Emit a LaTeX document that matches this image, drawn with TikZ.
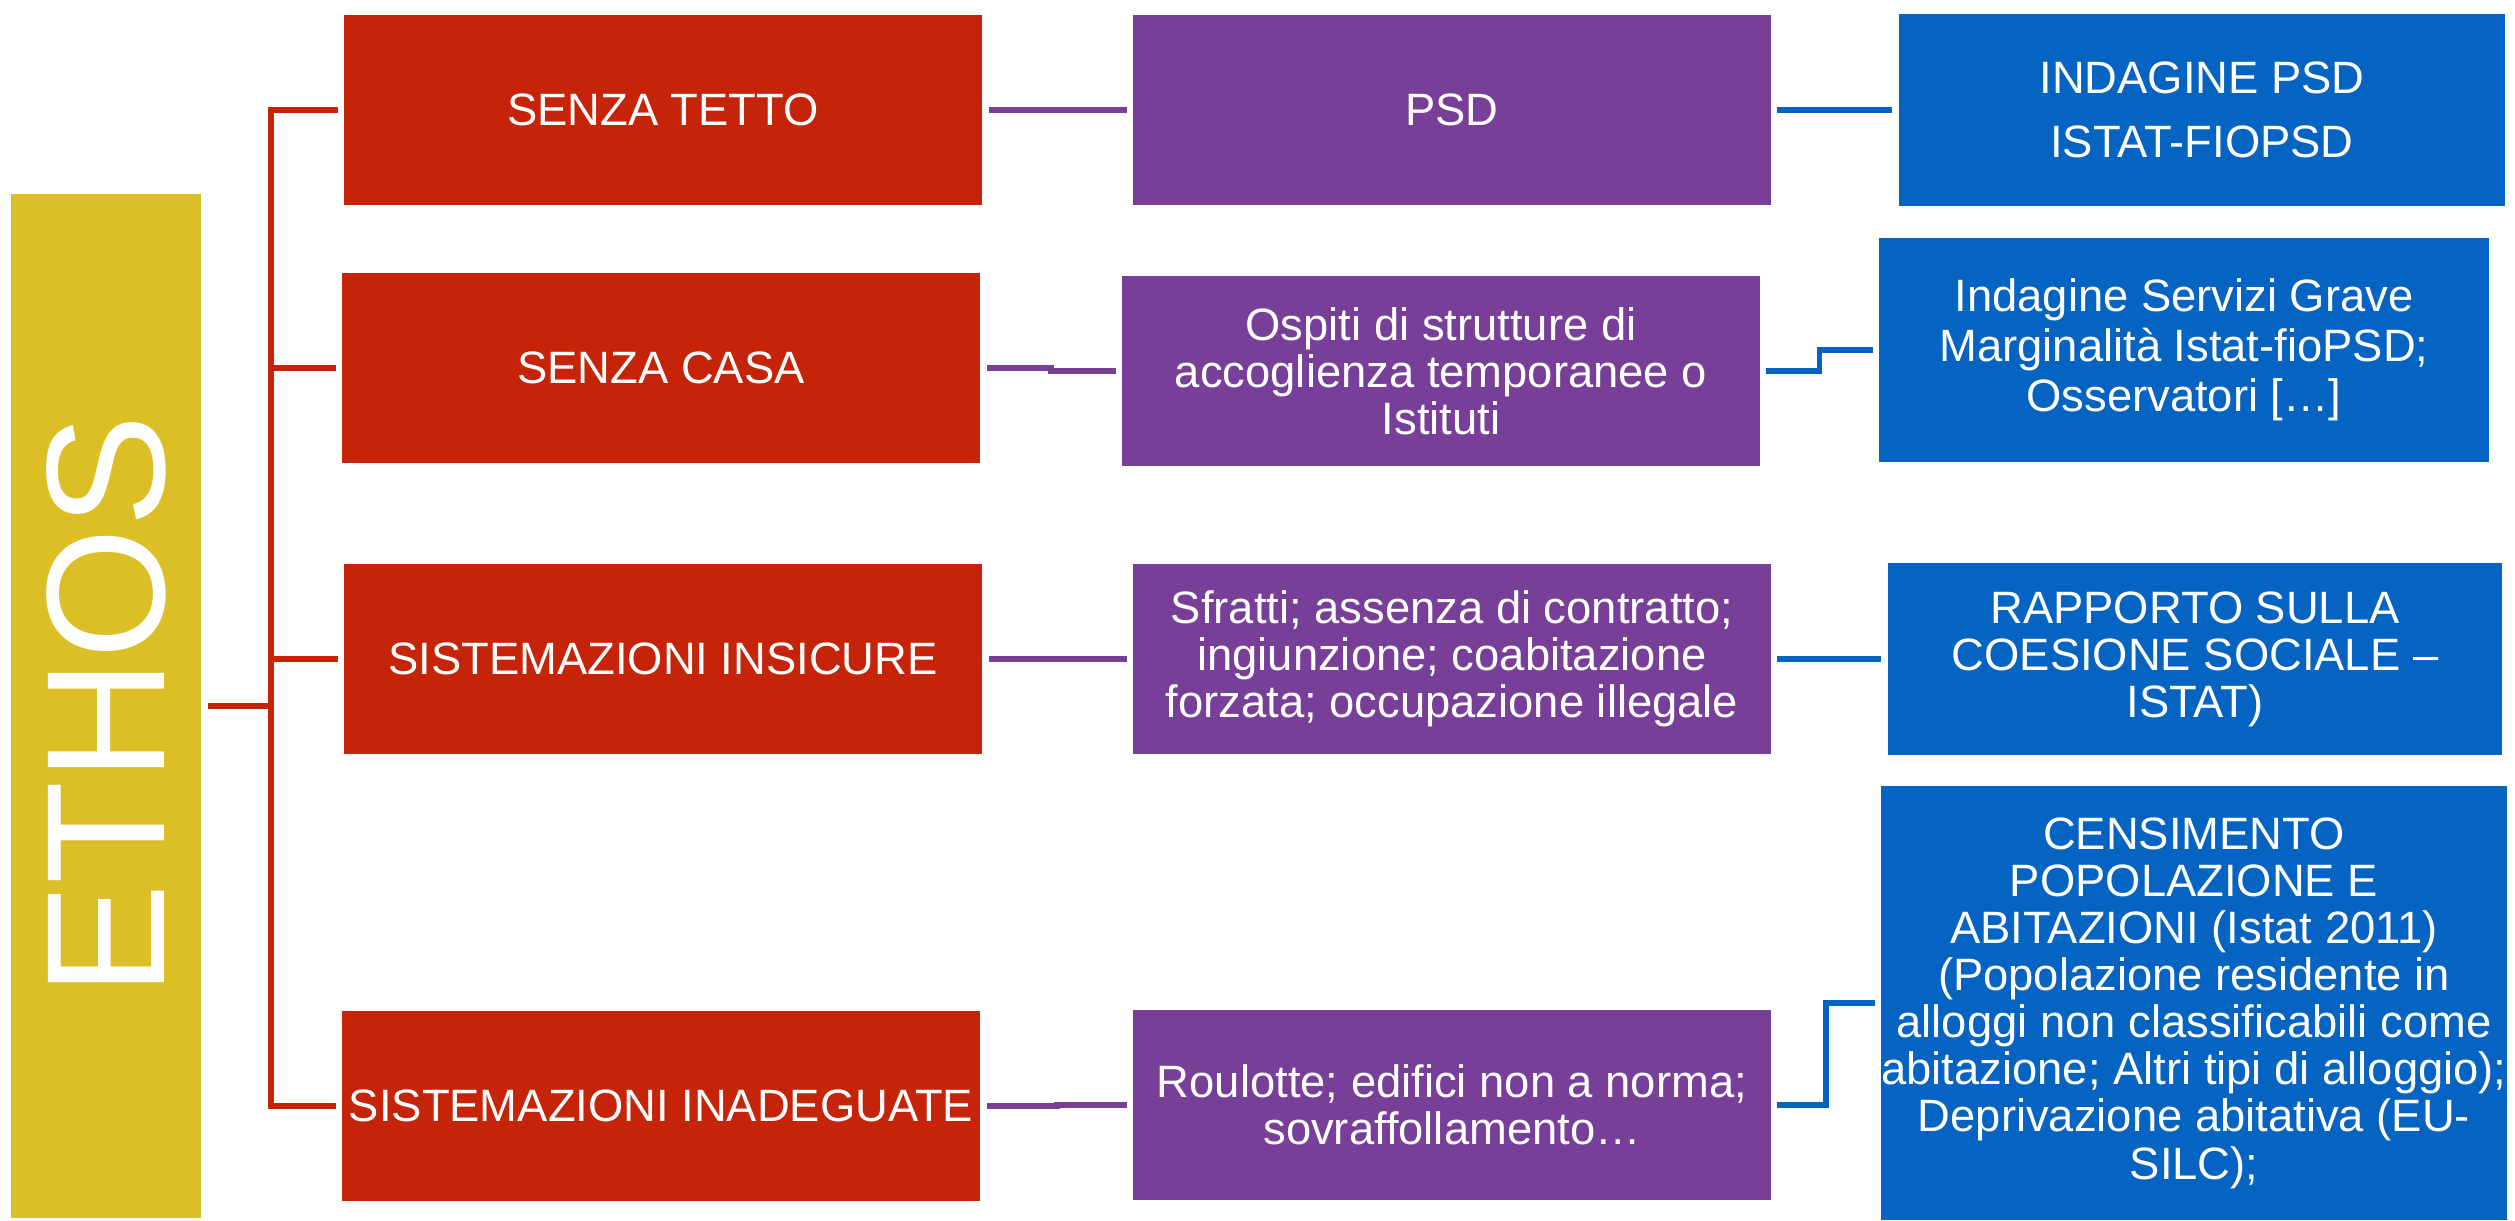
\documentclass[tikz,border=0pt]{standalone}
\usepackage{fontspec}
\setmainfont{Liberation Sans}
\usepackage{tikz}
\usetikzlibrary{calc,positioning}

\definecolor{ethosyellow}{RGB}{220,190,38}
\definecolor{boxred}{RGB}{197,36,8}
\definecolor{boxpurple}{RGB}{120,63,153}
\definecolor{boxblue}{RGB}{5,99,193}

\tikzset{
  box/.style={rectangle, inner sep=0pt, text=white, align=center,
    font=\fontsize{12.9}{13.4}\selectfont},
  redbox/.style={box, fill=boxred, minimum width=6.38cm, minimum height=1.9cm},
  purplebox/.style={box, fill=boxpurple, minimum width=6.37cm, minimum height=1.9cm},
  bluebox/.style={box, fill=boxblue},
  redline/.style={draw=boxred, line width=1.6pt, shorten <=0.06cm, shorten >=0.05cm},
  purpleline/.style={draw=boxpurple, line width=1.6pt, shorten <=0.06cm, shorten >=0.06cm},
  blueline/.style={draw=boxblue, line width=1.6pt, shorten <=0.06cm, shorten >=0.06cm},
  elbow/.style={to path={-| ($(\tikztostart)!0.5!(\tikztotarget)$) |- (\tikztotarget)}}
}

\begin{document}
\begin{tikzpicture}[x=0.01cm, y=-0.01cm]
        \useasboundingbox (0,0) rectangle (2515,1220);
        % ETHOS bar
        \node[fill=ethosyellow, inner sep=0pt, minimum width=1.9cm, minimum height=10.24cm,
          text=white, font=\fontsize{48}{52}\selectfont] (ethos) at (106,706)
          {\rotatebox{90}{ETHOS}\hspace{0.2cm}};

        % red column
        \node[redbox] (st) at (663,110) {SENZA TETTO};
        \node[redbox] (sc) at (661,368) {SENZA CASA};
        \node[redbox] (si) at (663,659) {SISTEMAZIONI INSICURE};
        \node[redbox] (sa) at (661,1106) {SISTEMAZIONI INADEGUATE};

        % purple column
        \node[purplebox] (psd) at (1452,110) {PSD};
        \node[purplebox] (osp) at (1441,371) {Ospiti di strutture di\\accoglienza temporanee o\\Istituti};
        \node[purplebox] (sfr) at (1452,659) {Sfratti; assenza di contratto;\\ingiunzione; coabitazione\\forzata; occupazione illegale};
        \node[purplebox] (rou) at (1452,1105) {Roulotte; edifici non a norma;\\sovraffollamento…};

        % blue column
        \node[bluebox, minimum width=6.06cm, minimum height=1.91cm] (ipsd) at (2202,110)
          {INDAGINE PSD\\[5pt]ISTAT-FIOPSD};
        \node[bluebox, minimum width=6.09cm, minimum height=2.23cm] (isg) at (2184,350)
          {Indagine Servizi Grave\\[0.8pt]Marginalità Istat-fioPSD;\\[0.8pt]Osservatori […]};
        \node[bluebox, minimum width=6.14cm, minimum height=1.91cm] (rap) at (2195,659)
          {RAPPORTO SULLA\\COESIONE SOCIALE –\\ISTAT)};
        \node[bluebox, minimum width=6.21cm, minimum height=4.34cm] (cen) at (2194,1003)
          {CENSIMENTO\\POPOLAZIONE E\\ABITAZIONI (Istat 2011)\\(Popolazione residente in\\alloggi non classificabili come\\abitazione; Altri tipi di alloggio);\\Deprivazione abitativa (EU-\\SILC);};

        % bracket
        \coordinate (trunk) at (271,0);
        \foreach \n in {st,sc,si,sa}
          \draw[redline] (ethos.east) -| (trunk |- \n.west) -- (\n.west);

        % links
        \draw[purpleline] (st.east) -- (psd.west);
        \draw[purpleline] (sc.east) to[elbow] (osp.west);
        \draw[purpleline] (si.east) -- (sfr.west);
        \draw[purpleline] (sa.east) to[elbow] (rou.west);
        \draw[blueline] (psd.east) -- (ipsd.west);
        \draw[blueline] (osp.east) to[elbow] (isg.west);
        \draw[blueline] (sfr.east) -- (rap.west);
        \draw[blueline] (rou.east) to[elbow] (cen.west);
\end{tikzpicture}
\end{document}
